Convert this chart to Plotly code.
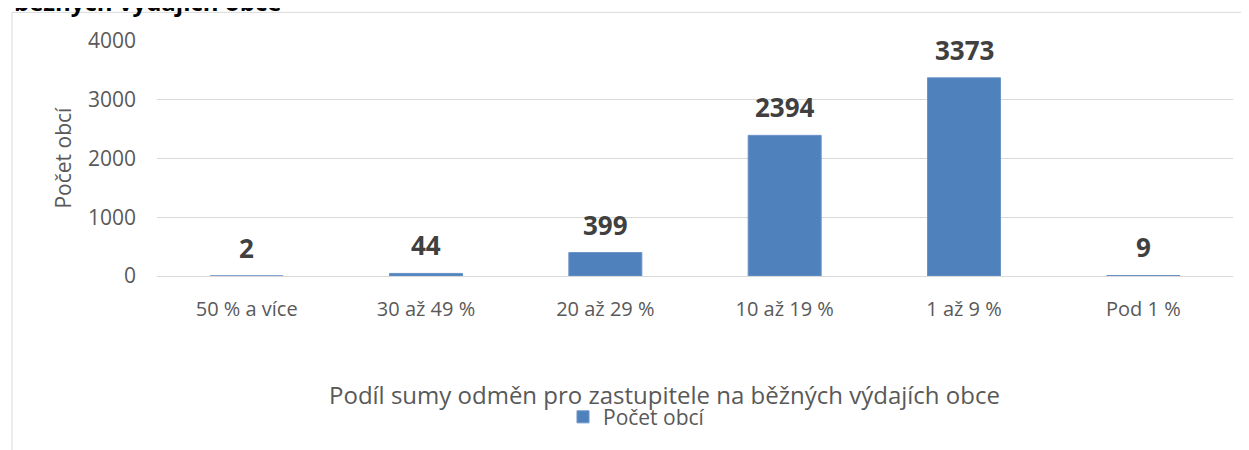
import plotly.graph_objects as go

categories = ["50 % a více", "30 až 49 %", "20 až 29 %", "10 až 19 %", "1 až 9 %", "Pod 1 %"]
values = [2, 44, 399, 2394, 3373, 9]
series_name = "Počet obcí"
y_ticks = [0, 1000, 2000, 3000, 4000]
x_title = "Podíl sumy odměn pro zastupitele na běžných výdajích obce"
y_title = "Počet obcí"
title_tail = "běžných výdajích obce"

# page body has an 8px margin; work in screen pixels and convert
OFF = 8
W, H = 1241, 442
L, R, T, B = 149, 16, 33, 171
pw, ph = W - L - R, H - T - B


def px_x(sx):
    return (sx - OFF - L) / pw


def px_y(sy):
    return (H - B - (sy - OFF)) / ph


FONT = "Open Sans"
GREY = "#595959"

fig = go.Figure()
fig.add_trace(go.Bar(
    x=categories, y=values, name=series_name,
    marker=dict(color="#4F81BD", line=dict(color="#6a93c8", width=1)),
    showlegend=True,
))

annotations = []
for c, v in zip(categories, values):
    annotations.append(dict(
        x=c, y=v, xref="x", yref="y", text=str(v), showarrow=False,
        yanchor="middle", yshift=28,
        font=dict(family=FONT, size=26, color="#404040", weight="bold"),
    ))

annotations.append(dict(
    x=px_x(664), y=px_y(399), xref="paper", yref="paper", text=x_title,
    showarrow=False, xanchor="center", yanchor="middle",
    font=dict(family=FONT, size=24, color=GREY),
))
annotations.append(dict(
    x=px_x(63), y=px_y(159), xref="paper", yref="paper", text=y_title,
    showarrow=False, xanchor="center", yanchor="middle", textangle=-90,
    font=dict(family=FONT, size=21, color=GREY),
))
annotations.append(dict(
    x=px_x(12), y=px_y(1), xref="paper", yref="paper", text=title_tail,
    showarrow=False, xanchor="left", yanchor="middle",
    font=dict(family=FONT, size=24, color="#000000", weight="bold"),
))

fig.update_layout(
    width=W, height=H,
    margin=dict(l=L, r=R, t=T, b=B, pad=0),
    paper_bgcolor="white", plot_bgcolor="white",
    bargap=0.593,
    font=dict(family=FONT, color=GREY),
    annotations=annotations,
    legend=dict(
        orientation="h", x=px_x(563), y=px_y(422), xanchor="left", yanchor="middle",
        font=dict(family=FONT, size=21, color=GREY), bgcolor="rgba(0,0,0,0)",
    ),
    shapes=[dict(
        type="rect", xref="paper", yref="paper",
        x0=px_x(12), x1=px_x(1400), y0=px_y(12), y1=px_y(600),
        line=dict(color="#d9d9d9", width=1), fillcolor="rgba(0,0,0,0)", layer="below",
    )],
    xaxis=dict(
        type="category", showgrid=False, zeroline=False, showline=False,
        ticks="", ticklabelstandoff=19,
        tickfont=dict(family=FONT, size=20, color=GREY),
    ),
    yaxis=dict(
        range=[0, 4000], tickvals=y_ticks, showgrid=True, gridcolor="#d9d9d9", gridwidth=1,
        zeroline=True, zerolinecolor="#d9d9d9", zerolinewidth=1, showline=False,
        ticks="", ticklabelstandoff=20,
        tickfont=dict(family=FONT, size=21, color=GREY),
    ),
)

fig.write_html("out.html")
